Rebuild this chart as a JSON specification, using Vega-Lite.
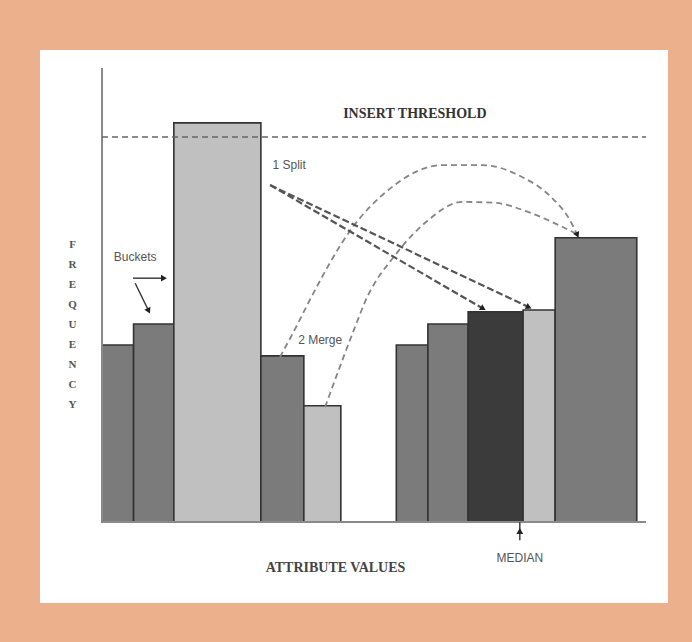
{
  "$schema": "https://vega.github.io/schema/vega-lite/v6.json",
  "width": 628,
  "height": 553,
  "autosize": {"type": "none"},
  "padding": {"left": 40, "top": 50, "right": 24, "bottom": 39},
  "background": "#EDB08C",
  "config": {"view": {"fill": "white", "stroke": null}},
  "datasets": {
    "bars": [
      {"bin": 1, "x": 0, "x2": 5.8, "y": 39.0, "kind": "normal"},
      {"bin": 2, "x": 5.8, "x2": 13.2, "y": 43.6, "kind": "normal"},
      {"bin": 3, "x": 13.2, "x2": 29.2, "y": 87.9, "kind": "light"},
      {"bin": 4, "x": 29.2, "x2": 37.1, "y": 36.6, "kind": "normal"},
      {"bin": 5, "x": 37.1, "x2": 43.9, "y": 25.6, "kind": "light"},
      {"bin": 6, "x": 54.1, "x2": 59.9, "y": 39.0, "kind": "normal"},
      {"bin": 7, "x": 59.9, "x2": 67.3, "y": 43.6, "kind": "normal"},
      {"bin": 8, "x": 67.3, "x2": 77.4, "y": 46.3, "kind": "median"},
      {"bin": 9, "x": 77.4, "x2": 83.3, "y": 46.7, "kind": "light"},
      {"bin": 10, "x": 83.3, "x2": 98.3, "y": 62.6, "kind": "normal"}
    ],
    "axes": [
      {"name": "frequency axis", "x": 0, "x2": 0, "y": 0, "y2": 100},
      {"name": "attribute axis", "x": 0, "x2": 100, "y": 0, "y2": 0}
    ],
    "threshold": [
      {"name": "insert threshold", "x": 0, "x2": 100, "y": 84.8}
    ],
    "paths": [
      {"path": "merge outer", "kind": "arc", "step": 1, "x": 32.7, "y": 36.3},
      {"path": "merge outer", "kind": "arc", "step": 2, "x": 35.7, "y": 43.0},
      {"path": "merge outer", "kind": "arc", "step": 3, "x": 38.2, "y": 48.9},
      {"path": "merge outer", "kind": "arc", "step": 4, "x": 46.0, "y": 64.8},
      {"path": "merge outer", "kind": "arc", "step": 5, "x": 52.6, "y": 73.1},
      {"path": "merge outer", "kind": "arc", "step": 6, "x": 62.5, "y": 78.6},
      {"path": "merge outer", "kind": "arc", "step": 7, "x": 69.9, "y": 78.6},
      {"path": "merge outer", "kind": "arc", "step": 8, "x": 77.2, "y": 76.0},
      {"path": "merge outer", "kind": "arc", "step": 9, "x": 82.7, "y": 71.4},
      {"path": "merge outer", "kind": "arc", "step": 10, "x": 86.0, "y": 66.5},
      {"path": "merge outer", "kind": "arc", "step": 11, "x": 87.3, "y": 63.4},
      {"path": "merge inner", "kind": "arc", "step": 1, "x": 41.0, "y": 25.3},
      {"path": "merge inner", "kind": "arc", "step": 2, "x": 46.3, "y": 42.3},
      {"path": "merge inner", "kind": "arc", "step": 3, "x": 48.5, "y": 48.9},
      {"path": "merge inner", "kind": "arc", "step": 4, "x": 53.9, "y": 58.8},
      {"path": "merge inner", "kind": "arc", "step": 5, "x": 59.4, "y": 65.9},
      {"path": "merge inner", "kind": "arc", "step": 6, "x": 66.2, "y": 70.5},
      {"path": "merge inner", "kind": "arc", "step": 7, "x": 72.2, "y": 70.3},
      {"path": "merge inner", "kind": "arc", "step": 8, "x": 78.3, "y": 68.3},
      {"path": "merge inner", "kind": "arc", "step": 9, "x": 82.7, "y": 66.1},
      {"path": "merge inner", "kind": "arc", "step": 10, "x": 87.3, "y": 63.4},
      {"path": "split a", "kind": "split", "step": 1, "x": 30.9, "y": 74.2},
      {"path": "split a", "kind": "split", "step": 2, "x": 69.9, "y": 47.1},
      {"path": "split b", "kind": "split", "step": 1, "x": 30.9, "y": 74.2},
      {"path": "split b", "kind": "split", "step": 2, "x": 78.3, "y": 47.4},
      {"path": "buckets right", "kind": "pointer", "step": 1, "x": 5.7, "y": 53.7},
      {"path": "buckets right", "kind": "pointer", "step": 2, "x": 11.2, "y": 53.7},
      {"path": "buckets down", "kind": "pointer", "step": 1, "x": 6.1, "y": 52.6},
      {"path": "buckets down", "kind": "pointer", "step": 2, "x": 8.5, "y": 46.7},
      {"path": "median", "kind": "pointer", "step": 1, "x": 76.8, "y": -4.0},
      {"path": "median", "kind": "pointer", "step": 2, "x": 76.8, "y": 0}
    ],
    "heads": [
      {"path": "merge", "x": 87.3, "y": 63.4, "heading": 155},
      {"path": "split a", "x": 69.9, "y": 47.1, "heading": 120},
      {"path": "split b", "x": 78.3, "y": 47.4, "heading": 115},
      {"path": "buckets right", "x": 11.2, "y": 53.7, "heading": 90},
      {"path": "buckets down", "x": 8.5, "y": 46.7, "heading": 154},
      {"path": "median", "x": 76.8, "y": -2.2, "heading": 0}
    ],
    "labels": [
      {"text": "INSERT THRESHOLD", "x": 57.5, "y": 89.9, "role": "heading"},
      {"text": "1 Split", "x": 34.4, "y": 78.6, "role": "note"},
      {"text": "2 Merge", "x": 40.1, "y": 40.1, "role": "note"},
      {"text": "Buckets", "x": 6.1, "y": 58.4, "role": "note"},
      {"text": "MEDIAN", "x": 76.8, "y": -7.9, "role": "note"}
    ]
  },
  "encoding": {
    "x": {
      "field": "x", "type": "quantitative",
      "scale": {"domain": [-11.4, 104.04], "nice": false, "zero": false},
      "axis": {
        "domain": false, "ticks": false, "labels": false, "grid": false,
        "title": "ATTRIBUTE VALUES",
        "titleX": 295, "titleY": -36,
        "titleAlign": "center", "titleBaseline": "middle",
        "titleFont": "Liberation Serif", "titleFontSize": 14, "titleFontWeight": "bold", "titleColor": "#444444"
      }
    },
    "y": {
      "field": "y", "type": "quantitative",
      "scale": {"domain": [-17.84, 103.96], "nice": false, "zero": false},
      "axis": {
        "domain": false, "ticks": false, "labels": false, "grid": false,
        "title": ["F", "R", "E", "Q", "U", "E", "N", "C", "Y"],
        "titleAngle": 0, "titleX": 32, "titleY": 194,
        "titleAlign": "center", "titleBaseline": "middle", "titleLineHeight": 20,
        "titleFont": "Liberation Serif", "titleFontSize": 11, "titleFontWeight": "bold", "titleColor": "#555555"
      }
    }
  },
  "layer": [
    {
      "data": {"name": "bars"},
      "mark": {"type": "rect", "stroke": "#333333", "strokeWidth": 1.6},
      "encoding": {
        "x2": {"field": "x2"},
        "y2": {"datum": 0},
        "color": {
          "field": "kind", "type": "nominal",
          "scale": {"domain": ["normal", "light", "median"], "range": ["#7b7b7b", "#c0c0c0", "#3b3b3b"]},
          "legend": null
        }
      }
    },
    {
      "data": {"name": "axes"},
      "mark": {"type": "rule", "stroke": "#8a8a8a", "strokeWidth": 2},
      "encoding": {"x2": {"field": "x2"}, "y2": {"field": "y2"}}
    },
    {
      "data": {"name": "threshold"},
      "mark": {"type": "rule", "stroke": "#666666", "strokeWidth": 1.5, "strokeDash": [6, 4]},
      "encoding": {"x2": {"field": "x2"}}
    },
    {
      "data": {"name": "paths"},
      "transform": [{"filter": "datum.kind === 'arc'"}],
      "mark": {"type": "line", "stroke": "#858585", "strokeWidth": 1.8, "strokeDash": [6, 4], "interpolate": "monotone"},
      "encoding": {"detail": {"field": "path"}, "order": {"field": "step"}}
    },
    {
      "data": {"name": "paths"},
      "transform": [{"filter": "datum.kind === 'split'"}],
      "mark": {"type": "line", "stroke": "#555555", "strokeWidth": 2.2, "strokeDash": [7, 3]},
      "encoding": {"detail": {"field": "path"}, "order": {"field": "step"}}
    },
    {
      "data": {"name": "paths"},
      "transform": [{"filter": "datum.kind === 'pointer'"}],
      "mark": {"type": "line", "stroke": "#333333", "strokeWidth": 1.4},
      "encoding": {"detail": {"field": "path"}, "order": {"field": "step"}}
    },
    {
      "data": {"name": "heads"},
      "mark": {"type": "point", "shape": "triangle", "filled": true, "color": "#222222", "size": 45, "opacity": 1},
      "encoding": {"angle": {"field": "heading", "type": "quantitative", "scale": null}}
    },
    {
      "data": {"name": "labels"},
      "transform": [{"filter": "datum.role === 'heading'"}],
      "mark": {"type": "text", "font": "Liberation Serif", "fontSize": 14, "fontWeight": "bold", "color": "#333333", "align": "center", "baseline": "middle"},
      "encoding": {"text": {"field": "text"}}
    },
    {
      "data": {"name": "labels"},
      "transform": [{"filter": "datum.role === 'note'"}],
      "mark": {"type": "text", "font": "Liberation Sans Narrow, Liberation Sans", "fontSize": 12, "color": "#555555", "align": "center", "baseline": "middle"},
      "encoding": {"text": {"field": "text"}}
    }
  ]
}
